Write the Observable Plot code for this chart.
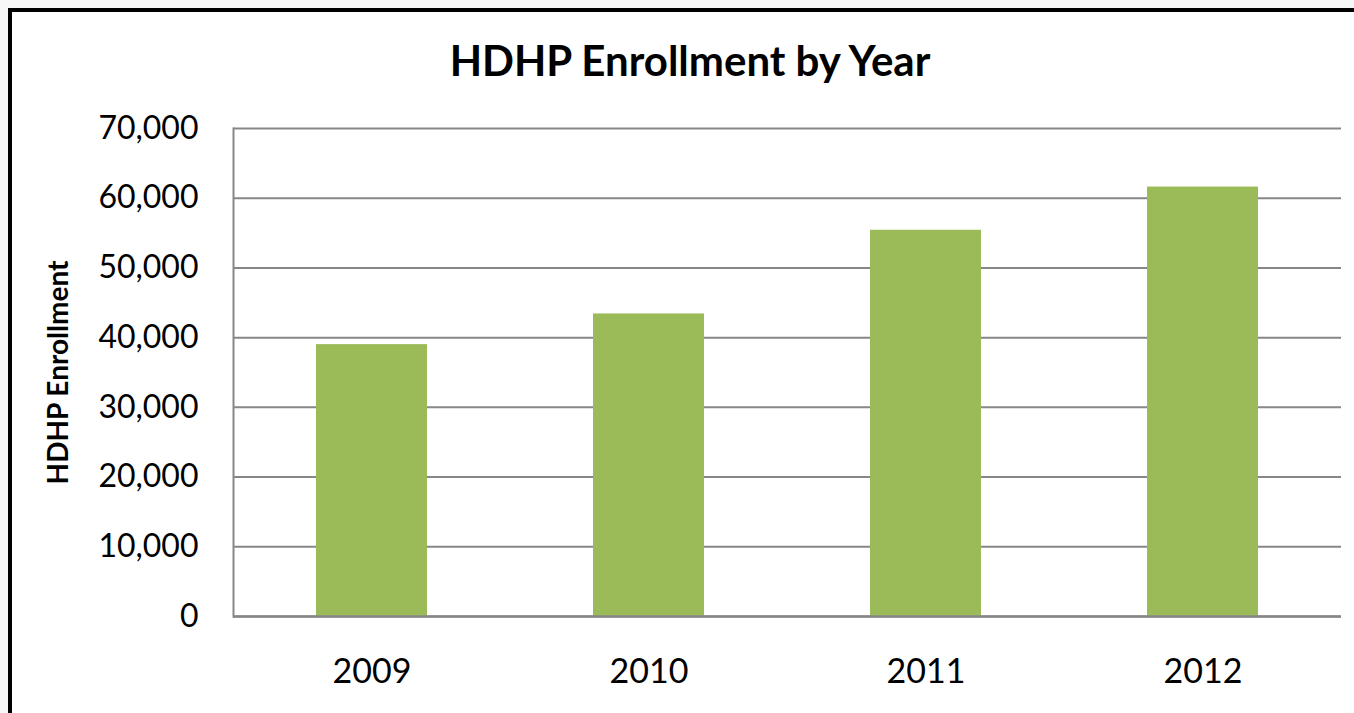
<!DOCTYPE html>
<html>
<head>
<meta charset="utf-8">
<script src="https://cdn.jsdelivr.net/npm/d3@7"></script>
<script src="https://cdn.jsdelivr.net/npm/@observablehq/plot@0.6"></script>
<style>
  html, body { margin: 0; padding: 0; }
  body { width: 1354px; height: 713px; background: #f7f7f7; position: relative; overflow: hidden; font-family: Lato, "Open Sans", sans-serif; }
  #frame { position: absolute; left: 8px; top: 8px; right: -10px; bottom: -10px; background: #fff; border-left: 4px solid #000; border-top: 4px solid #000; }
  #title { position: absolute; left: 0; width: 1380px; top: 35px; text-align: center; font-weight: bold; font-size: 42px; color: #000; }
  #chart { position: absolute; left: 0; top: 100px; }
</style>
</head>
<body>
<div id="frame"></div>
<div id="title">HDHP Enrollment by Year</div>
<div id="chart"></div>
<script>
const years = ["2009", "2010", "2011", "2012"];
const enrollment = [39000, 43400, 55400, 61600];
const yTicks = [0, 10000, 20000, 30000, 40000, 50000, 60000, 70000];

const data = years.map((y, i) => ({year: y, value: enrollment[i]}));

const chart = Plot.plot({
  width: 1354,
  height: 613,
  marginTop: 28,
  marginBottom: 97,
  marginLeft: 233,
  marginRight: 13,
  style: {fontFamily: "Lato, 'Open Sans', sans-serif", fontSize: "32px", background: "transparent", color: "#000"},
  x: {domain: years, paddingInner: 0.6, paddingOuter: 0.3, label: null},
  y: {domain: [0, 70000], label: null},
  marks: [
    Plot.gridY(yTicks, {stroke: "#878787", strokeOpacity: 1, strokeWidth: 2}),
    Plot.barY(data, {x: "year", y: "value", fill: "#9BBB59"}),
    Plot.frame({anchor: "left", stroke: "#878787", strokeWidth: 2}),
    Plot.ruleY([0], {stroke: "#878787", strokeWidth: 2.5}),
    Plot.axisY(yTicks, {tickSize: 0, tickPadding: 35, tickFormat: d3.format(","), label: "HDHP Enrollment", labelAnchor: "center", labelArrow: "none", labelOffset: 185}),
    Plot.axisX({tickSize: 0, tickPadding: 42, fontSize: 34, label: null})
  ]
});
document.getElementById("chart").appendChild(chart);
d3.select(chart).selectAll('g[aria-label="y-axis label"] text')
  .style("font-size", "28px").style("font-weight", "bold");
</script>
</body>
</html>
